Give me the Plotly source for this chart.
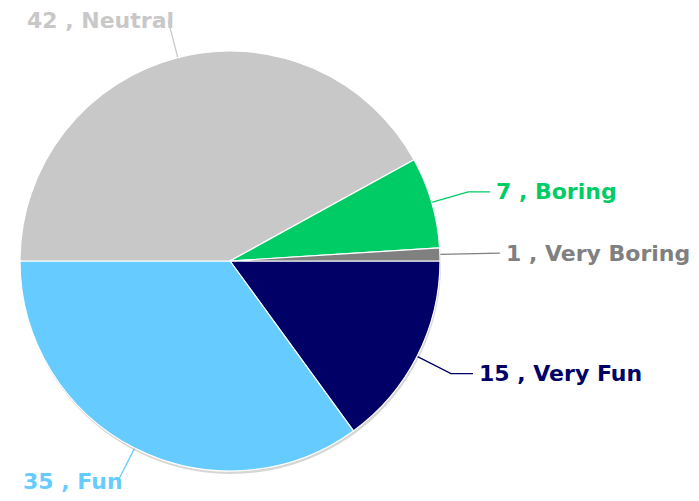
import math
import plotly.graph_objects as go

# Data
categories = ["Very Fun", "Fun", "Neutral", "Boring", "Very Boring"]
values = [15, 35, 42, 7, 1]
colors = ["#000066", "#66ccff", "#c8c8c8", "#00cc66", "#808080"]

W, H = 699, 501
ox, oy = 8, 8                  # page offset of the figure (body margin)
cx, cy, r = 230, 261, 210      # pie centre / radius in page pixels
elbow_r = r + 38
seg = 22


def dom_x(a, b):
    return [(a - ox) / W, (b - ox) / W]


def dom_y(top, bottom):
    return [1 - (bottom - oy) / H, 1 - (top - oy) / H]


fig = go.Figure()

# soft shadow behind the pie
fig.add_trace(go.Pie(
    values=[1], marker=dict(colors=["rgba(0,0,0,0.16)"], line=dict(width=0)),
    textinfo="none", hoverinfo="skip", showlegend=False, sort=False,
    domain=dict(x=dom_x(cx - r + 1, cx + r + 1), y=dom_y(cy - r + 3, cy + r + 3)),
))

fig.add_trace(go.Pie(
    labels=categories, values=values, sort=False, direction="clockwise",
    rotation=90, textinfo="none", hoverinfo="label+value", showlegend=False,
    marker=dict(colors=colors, line=dict(color="white", width=1.2)),
    domain=dict(x=dom_x(cx - r, cx + r), y=dom_y(cy - r, cy + r)),
))

total = sum(values)
cum = 0
annotations = []
for cat, v, col in zip(categories, values, colors):
    mid = (cum + v / 2) / total * 2 * math.pi   # clockwise from 3 o'clock
    cum += v
    ca, sa = math.cos(mid), math.sin(mid)
    x0, y0 = cx + r * ca, cy + r * sa
    x1, y1 = cx + elbow_r * ca, cy + elbow_r * sa
    if ca >= 0:
        xs, ys = [x0, x1, x1 + seg], [y0, y1, y1]
        tx, anchor = x1 + seg + 4, "left"
    else:
        xs, ys = [x0, x1], [y0, y1]
        tx, anchor = x1 + 8, "right"
    fig.add_trace(go.Scatter(x=xs, y=ys, mode="lines", line=dict(color=col, width=1.3),
                             hoverinfo="skip", showlegend=False))
    annotations.append(dict(x=tx, y=y1, xref="x", yref="y", text=f"{v} , {cat}",
                            showarrow=False, xanchor=anchor, yanchor="middle",
                            font=dict(family="DejaVu Sans", size=22, color=col, weight="bold")))

fig.update_layout(
    width=W, height=H, margin=dict(l=0, r=0, t=0, b=0),
    paper_bgcolor="white", plot_bgcolor="rgba(0,0,0,0)",
    xaxis=dict(range=[ox, W + ox], visible=False, fixedrange=True),
    yaxis=dict(range=[H + oy, oy], visible=False, fixedrange=True),
    annotations=annotations,
)

fig.write_html("out.html")
